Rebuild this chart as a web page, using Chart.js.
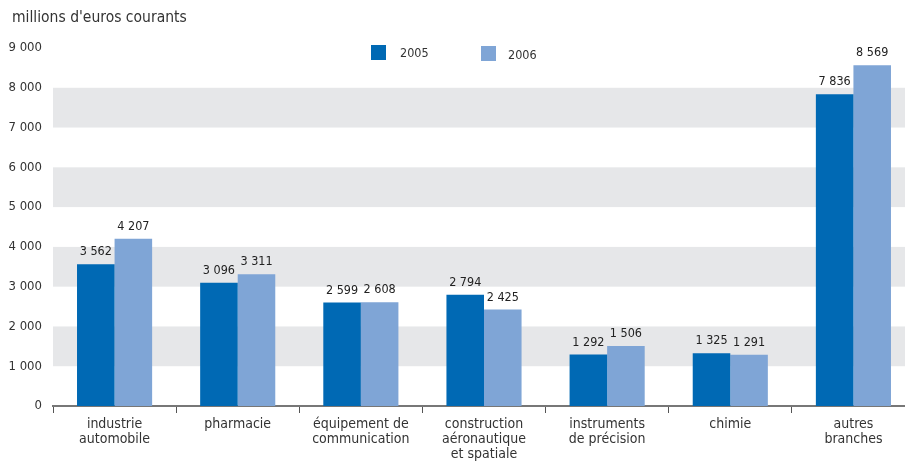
<!DOCTYPE html>
<html>
<head>
<meta charset="utf-8">
<script src="https://cdn.jsdelivr.net/npm/chart.js@4"></script>
<style>
  html, body { margin: 0; padding: 0; background: #fff; overflow: hidden; }
  #wrap { position: absolute; left: 0; top: 0; width: 915px; height: 461px; }
</style>
</head>
<body>
<div id="wrap"><canvas id="chart"></canvas></div>
<script>
const categories = [
  ["industrie", "automobile"],
  ["pharmacie"],
  ["équipement de", "communication"],
  ["construction", "aéronautique", "et spatiale"],
  ["instruments", "de précision"],
  ["chimie"],
  ["autres", "branches"]
];
const values2005 = [3562, 3096, 2599, 2794, 1292, 1325, 7836];
const values2006 = [4207, 3311, 2608, 2425, 1506, 1291, 8569];
const seriesNames = ["2005", "2006"];
const yTicks = [0, 1000, 2000, 3000, 4000, 5000, 6000, 7000, 8000, 9000];

const colors = ["#0069b4", "#7fa5d6"];
const FONT = "'Liberation Sans Narrow', 'DejaVu Sans Condensed', 'Liberation Sans', sans-serif";

const fmt = v => String(v).replace(/\B(?=(\d{3})+(?!\d))/g, " ");

// grey bands behind bars
const bands = {
  id: "bands",
  beforeDatasetsDraw(chart) {
    const { ctx, chartArea, scales: { y } } = chart;
    ctx.save();
    ctx.fillStyle = "#e6e7e9";
    for (let v = 1000; v < 9000; v += 2000) {
      const top = y.getPixelForValue(v + 1000);
      const bot = y.getPixelForValue(v);
      ctx.fillRect(chartArea.left, top, chartArea.right - chartArea.left, bot - top);
    }
    ctx.restore();
  }
};

// value labels above bars
const valueLabels = {
  id: "valueLabels",
  afterDatasetsDraw(chart) {
    const { ctx } = chart;
    ctx.save();
    ctx.font = "12.5px " + FONT;
    ctx.fillStyle = "#222";
    ctx.textAlign = "center";
    ctx.textBaseline = "alphabetic";
    chart.data.datasets.forEach((ds, i) => {
      chart.getDatasetMeta(i).data.forEach((bar, j) => {
        ctx.fillText(fmt(ds.data[j]), bar.x, bar.y - 9);
      });
    });
    ctx.restore();
  }
};

// legend + y title
const extras = {
  id: "extras",
  afterDraw(chart) {
    const { ctx } = chart;
    ctx.save();
    ctx.fillStyle = "#333";
    ctx.textBaseline = "middle";
    ctx.textAlign = "left";
    ctx.font = "15.5px " + FONT;
    ctx.fillText("millions d'euros courants", 12, 18);
    ctx.font = "12.5px " + FONT;
    const pos = [[371, 400], [481, 508]];
    chart.data.datasets.forEach((ds, i) => {
      ctx.fillStyle = ds.backgroundColor;
      ctx.fillRect(pos[i][0], 45 + i, 15, 15);
      ctx.fillStyle = "#333";
      ctx.fillText(ds.label, pos[i][1], 54 + i * 2);
    });
    ctx.restore();
  }
};

new Chart(document.getElementById("chart"), {
  type: "bar",
  data: {
    labels: categories,
    datasets: [
      { label: seriesNames[0], data: values2005, backgroundColor: colors[0] },
      { label: seriesNames[1], data: values2006, backgroundColor: colors[1] }
    ]
  },
  options: {
    responsive: true,
    maintainAspectRatio: false,
    animation: false,
    layout: { padding: { top: 48, left: 0, right: 0, bottom: 0 } },
    datasets: { bar: { categoryPercentage: 0.61, barPercentage: 1 } },
    plugins: { legend: { display: false }, tooltip: { enabled: false } },
    scales: {
      x: {
        grid: { display: true, drawOnChartArea: false, offset: true, tickLength: 7, color: "#555", lineWidth: 1 },
        border: { display: true, color: "#777", width: 2 },
        ticks: { color: "#333", font: { family: FONT, size: 14, lineHeight: 1.08 }, padding: 4, maxRotation: 0, autoSkip: false },
        afterFit(s) { s.height = 55; }
      },
      y: {
        min: 0, max: 9000,
        afterBuildTicks(s) { s.ticks = yTicks.map(v => ({ value: v })); },
        grid: { display: false },
        border: { display: false },
        ticks: { color: "#333", font: { family: FONT, size: 13 }, padding: 3, callback: v => fmt(v) },
        afterFit(s) { s.width = 53; }
      }
    }
  },
  plugins: [bands, valueLabels, extras]
});
</script>
</body>
</html>
